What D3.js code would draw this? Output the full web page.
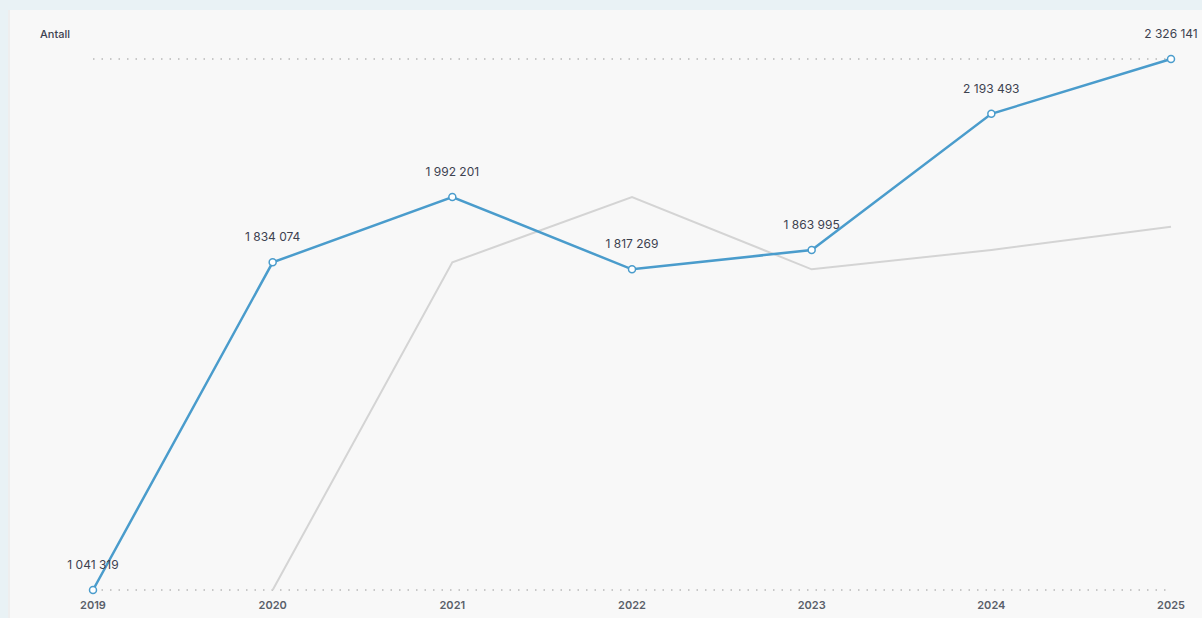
<!DOCTYPE html>
<html>
<head>
<meta charset="utf-8">
<script src="https://cdn.jsdelivr.net/npm/d3@7"></script>
<style>
  html, body { margin: 0; padding: 0; background: #e9f2f5; }
  body { width: 1202px; height: 618px; overflow: hidden; font-family: Inter, "Open Sans", sans-serif; }
</style>
</head>
<body>
<div id="chart"></div>
<script>
// data
const years = [2019, 2020, 2021, 2022, 2023, 2024, 2025];
const antall = [1041319, 1834074, 1992201, 1817269, 1863995, 2193493, 2326141];
const forrige = [null, 1041319, 1834074, 1992201, 1817269, 1863995, 1920000];
const gridValues = [1041319, 2326141];

const W = 1202, H = 618;

const svg = d3.select("#chart").append("svg")
    .attr("width", W)
    .attr("height", H);

// panel
svg.append("rect")
    .attr("x", 0).attr("y", 0)
    .attr("width", W).attr("height", H)
    .attr("fill", "#e9f2f5");
svg.append("rect")
    .attr("x", 8).attr("y", 10)
    .attr("width", W - 8).attr("height", H - 10)
    .attr("fill", "#f8f8f8");
svg.append("line")
    .attr("x1", 9).attr("x2", 9)
    .attr("y1", 10).attr("y2", H)
    .attr("stroke", "#eeeeee")
    .attr("stroke-width", 2);

let x = d3.scalePoint().domain(years).range([93, 1171]);
let y = d3.scaleLinear().domain([d3.min(antall), d3.max(antall)]).range([590, 59]);

// dotted grid lines
svg.selectAll(".grid")
    .data(gridValues)
    .enter().append("line")
    .attr("class", "grid")
    .attr("x1", 93)
    .attr("x2", 1168)
    .attr("y1", d => y(d))
    .attr("y2", d => y(d))
    .attr("stroke", "#b8b8b8")
    .attr("stroke-width", 1.4)
    .attr("stroke-dasharray", "1.5,7");

// x axis labels
svg.selectAll(".year")
    .data(years)
    .enter().append("text")
    .attr("class", "year")
    .attr("x", d => x(d))
    .attr("y", 609)
    .attr("text-anchor", "middle")
    .attr("font-size", 11)
    .attr("font-weight", 600)
    .attr("fill", "#5a5f6a")
    .text(d => d);

svg.append("text")
    .attr("x", 40)
    .attr("y", 38)
    .attr("font-size", 11)
    .attr("font-weight", 500)
    .attr("fill", "#3d4250")
    .text("Antall");

const line = d3.line()
    .defined(d => d.v != null)
    .x(d => x(d.year))
    .y(d => y(d.v));

// comparison series (grey)
svg.append("path")
    .datum(years.map((yr, i) => ({ year: yr, v: forrige[i] })))
    .attr("fill", "none")
    .attr("stroke", "#d4d4d4")
    .attr("stroke-width", 2)
    .attr("d", line);

const main = years.map((yr, i) => ({ year: yr, v: antall[i] }));

svg.append("path")
    .datum(main)
    .attr("fill", "none")
    .attr("stroke", "#4a9ccc")
    .attr("stroke-width", 2.5)
    .attr("d", line);

svg.selectAll(".dot")
    .data(main)
    .enter().append("circle")
    .attr("class", "dot")
    .attr("cx", d => x(d.year))
    .attr("cy", d => y(d.v))
    .attr("r", 3.5)
    .attr("fill", "#ffffff")
    .attr("stroke", "#4a9ccc")
    .attr("stroke-width", 1.5);

const fmt = v => d3.format(",")(v).replace(/,/g, " ");

svg.selectAll(".lbl")
    .data(main)
    .enter().append("text")
    .attr("class", "lbl")
    .attr("x", d => x(d.year))
    .attr("y", d => y(d.v) - 21)
    .attr("text-anchor", "middle")
    .attr("font-size", 12)
    .attr("fill", "#3d4250")
    .text(d => fmt(d.v));
</script>
</body>
</html>
